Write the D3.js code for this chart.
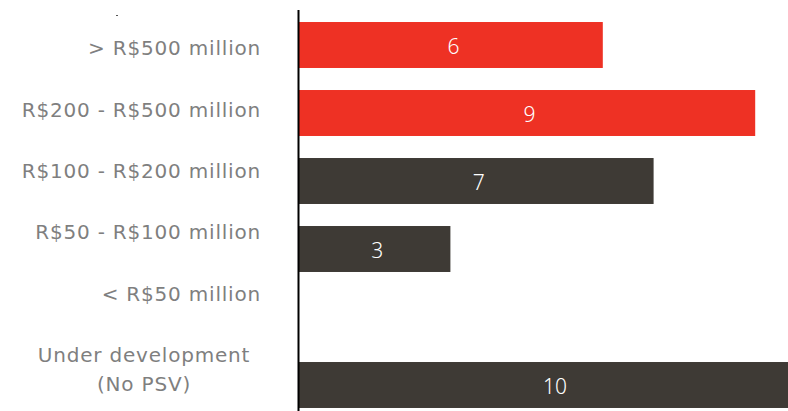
<!DOCTYPE html>
<html><head><meta charset="utf-8">
<script src="https://cdn.jsdelivr.net/npm/d3@7"></script>
<style>body{margin:0;background:#fff}svg{display:block}</style>
</head><body>
<script>
const categories = ["> R$500 million","R$200 - R$500 million","R$100 - R$200 million","R$50 - R$100 million","< R$50 million","Under development (No PSV)"];
const labelLines = [["> R$500 million"],["R$200 - R$500 million"],["R$100 - R$200 million"],["R$50 - R$100 million"],["< R$50 million"],["Under development","(No PSV)"]];
const values = [6,9,7,3,null,10];
const colors = ["#EE3124","#EE3124","#3E3A35","#3E3A35","#3E3A35","#3E3A35"];

const W=788,H=411;
const svg=d3.select("body").append("svg").attr("width",W).attr("height",H);
const x=d3.scaleLinear().domain([0,10]).range([298,806]);
const y=d3.scaleBand().domain(categories).range([11,419]).paddingInner(0.324).paddingOuter(0.162);
const yLabel=d3.scalePoint().domain(categories).range([48,355]);
const font="'Noto Sans', sans-serif";
const labelFont="'DejaVu Sans', sans-serif";

svg.selectAll("rect.bar").data(categories.map((c,i)=>({c,v:values[i],col:colors[i]})).filter(d=>d.v!=null))
  .join("rect").attr("class","bar")
  .attr("x",x(0)).attr("y",d=>y(d.c)).attr("width",d=>x(d.v)-x(0)).attr("height",y.bandwidth())
  .attr("fill",d=>d.col);

svg.selectAll("text.val").data(categories.map((c,i)=>({c,v:values[i]})).filter(d=>d.v!=null))
  .join("text").attr("class","val")
  .attr("x",d=>(x(0)+x(d.v))/2+3).attr("y",d=>y(d.c)+y.bandwidth()/2+1)
  .attr("dy","0.36em").attr("text-anchor","middle")
  .attr("fill","#fff").attr("font-family",font).attr("font-weight",300).attr("font-size",21)
  .text(d=>d.v);

categories.forEach((c,i)=>{
  const lines=labelLines[i];
  const multi=lines.length>1;
  const t=svg.append("text").attr("text-anchor",multi?"middle":"end")
    .attr("fill","#7f7f7f").attr("font-family",labelFont).attr("font-size",20)
    .attr("letter-spacing",0.8);
  lines.forEach((l,j)=>{
    t.append("tspan").attr("x",multi?144:261)
     .attr("y",yLabel(c) + j*29).attr("dy","0.36em").text(l);
  });
});

svg.append("line").attr("x1",298.5).attr("x2",298.5).attr("y1",10).attr("y2",H)
  .attr("stroke","#000").attr("stroke-width",2);
svg.append("rect").attr("x",116).attr("y",15).attr("width",2).attr("height",1).attr("fill","#555");
</script>
</body></html>
